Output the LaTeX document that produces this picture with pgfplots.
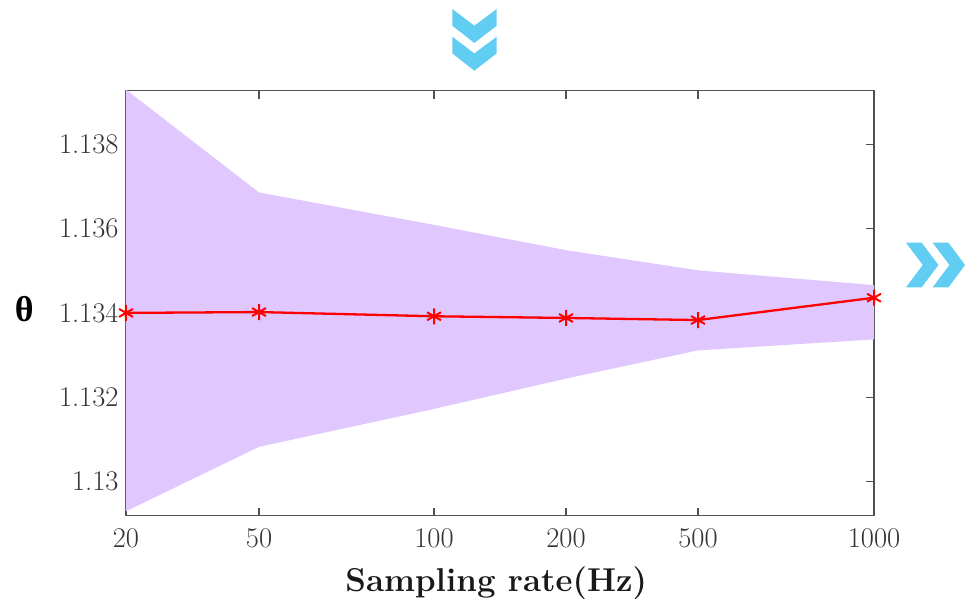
\documentclass[border=0pt]{standalone}
\usepackage{pgfplots}
\pgfplotsset{compat=1.18}
\usepackage{fontspec}
\newfontfamily\grk{Liberation Serif}
\definecolor{bandcol}{RGB}{224,200,255}
\definecolor{chev}{RGB}{98,205,243}
\definecolor{axcol}{RGB}{80,80,80}
\begin{document}
\begin{tikzpicture}[x=1pt,y=1pt]
\useasboundingbox (0,0) rectangle (966,598);
% decorative chevrons (top)
\foreach \t in {9,36.7}{
  \fill[chev] (452.3,598-\t) -- (474.3,598-\t-16.7) -- (496.7,598-\t) -- (496.7,598-\t-16.7) -- (474.3,598-\t-34) -- (452.3,598-\t-16.7) -- cycle;
}
% decorative chevrons (right)
\foreach \L in {906,932.7}{
  \fill[chev] (\L,598-242.7) -- (\L+15.7,598-242.7) -- (\L+32.4,598-265) -- (\L+15.7,598-287.3) -- (\L,598-287.3) -- (\L+16.7,598-265) -- cycle;
}
\begin{axis}[
  at={(126pt,82.5pt)}, anchor=south west,
  scale only axis, width=748pt, height=425pt,
  xmin=0, xmax=748, ymin=1.12919, ymax=1.13928,
  xtick={0,133,308,440,572,748},
  xticklabels={\textnormal{20},\textnormal{50},\textnormal{100},\textnormal{200},\textnormal{500},\textnormal{1000}},
  ytick={1.13,1.132,1.134,1.136,1.138},
  yticklabels={\textnormal{1.13},\textnormal{1.132},\textnormal{1.134},\textnormal{1.136},\textnormal{1.138}},
  scaled y ticks=false,
  /pgf/number format/assume math mode=true,
  tick align=inside, major tick length=8pt,
  axis line style={axcol, line width=1.2pt},
  every tick/.style={axcol, line width=1.1pt},
  tick label style={font=\fontsize{28.5}{31}\selectfont, text=black!80},
  xticklabel style={yshift=-10pt},
  yticklabel style={xshift=-4pt},
  xlabel={\bfseries Sampling rate(Hz)},
  xlabel style={font=\fontsize{33}{35}\selectfont, at={(axis description cs:0.495,-0.16)}, anchor=center, text=black!90},
  ylabel={\grk\bfseries θ},
  ylabel style={rotate=-90, font=\fontsize{36}{38}\selectfont, at={(axis description cs:-0.136,0.485)}, anchor=center},
  clip=true,
]
\addplot[fill=bandcol, draw=none] coordinates {
  (0,1.1393) (133,1.13686) (308,1.13609) (440,1.13549) (572,1.13501) (748,1.13466)
  (748,1.13337) (572,1.13311) (440,1.13244) (308,1.13172) (133,1.13082) (0,1.12929)
} -- cycle;
\addplot[red, line width=2.3pt, mark=asterisk, mark size=8pt, mark options={line width=2pt}] coordinates {
  (0,1.1340) (133,1.13402) (308,1.13392) (440,1.13388) (572,1.13383) (748,1.13436)
};
\end{axis}
\end{tikzpicture}
\end{document}
